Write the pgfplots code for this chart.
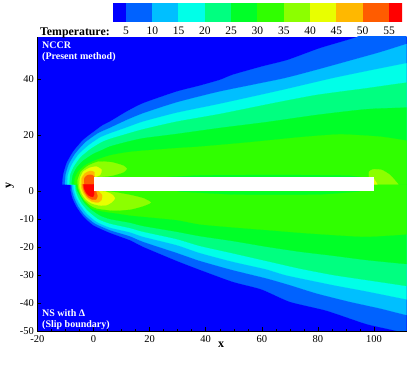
\documentclass[border=0pt]{standalone}
\usepackage{pgfplots}
\pgfplotsset{compat=1.18}
\usepackage{fontspec}
\setmainfont{Liberation Serif}
\definecolor{c0}{HTML}{0000FF}
\definecolor{c5}{HTML}{0062FF}
\definecolor{c10}{HTML}{00BFFF}
\definecolor{c15}{HTML}{00FFE8}
\definecolor{c20}{HTML}{00FF80}
\definecolor{c25}{HTML}{00FF28}
\definecolor{c30}{HTML}{30FF00}
\definecolor{c35}{HTML}{8CFF00}
\definecolor{c40}{HTML}{E8FF00}
\definecolor{c45}{HTML}{FFB800}
\definecolor{c50}{HTML}{FF5C00}
\definecolor{c55}{HTML}{FF0000}
\tikzset{band/.style={fill=#1,draw=#1,line width=.2pt},
         zone/.style={fill=#1,draw=#1,line width=.2pt,smooth,tension=0.35}}
\begin{document}
\begin{tikzpicture}[x=1pt,y=1pt]
\useasboundingbox (0,0) rectangle (415,369);
\begin{axis}[
  at={(37.4pt,37.7pt)},anchor=south west,
  scale only axis,width=369.3pt,height=294.3pt,
  xmin=-20,xmax=111.66,ymin=-50,ymax=55.1,
  axis x line=bottom,axis y line=left,axis line style={-,line width=.7pt},
  axis on top,
  axis background/.style={fill=c0},
  xtick={-20,0,...,100},
  xticklabels={-20,0,20,40,60,80,100},
  ytick={-50,-40,-30,-20,-10,0,20,40},
  yticklabels={-50,-40,-30,-20,-10,0,20,40},
  minor x tick num=3,
  tick align=inside,
  major tick length=4pt,minor tick length=2pt,
  tick style={black,line width=.4pt},
  ticklabel style={font=\fontsize{10.5}{12}\selectfont},
  xticklabel style={yshift=-0.5pt},
]
% level 5
\addplot[zone=c5] coordinates {(-11.12,2.5)(-10.77,5.82)(-9.55,10.0)(-7.2,14.14)(-3.64,18.32)(0.53,21.54)(3.49,23.68)(5.88,24.86)(11.84,28.43)(17.75,31.43)(29.66,35.57)(37.97,37.71)(45.1,39.75)(49.73,41.6)(59.96,44.5)(69.34,46.9)(80.75,51.07)(93.83,55.0)(100,58)(125,58)(125,2.5)} --cycle;
\addplot[zone=c5] coordinates {(-8.13,2.5)(-8.13,0.46)(-7.42,-2.5)(-5.99,-5.5)(-3.64,-8.82)(-0.07,-12.04)(5.88,-14.79)(13.01,-17.4)(17.75,-19.79)(29.66,-24.79)(37.97,-28.0)(49.73,-32.3)(59.96,-35.0)(70.05,-39.43)(83.14,-42.6)(97.4,-47.39)(109.27,-50.14)(125,-55)(125,2.5)} --cycle;
% level 10
\addplot[zone=c10] coordinates {(-10.16,2.5)(-9.91,5.82)(-8.73,9.64)(-6.35,13.57)(-2.78,17.5)(1.71,20.71)(5.88,22.6)(11.84,25.4)(17.75,27.82)(29.66,31.7)(45.1,35.6)(67.56,40.2)(79.57,43.32)(91.44,46.6)(102.14,49.6)(111.66,52.6)(125,57)(125,2.5)} --cycle;
\addplot[zone=c10] coordinates {(-7.77,2.5)(-7.56,0.46)(-6.84,-2.14)(-5.42,-5.25)(-3.03,-8.46)(0.53,-11.43)(5.88,-13.82)(13.01,-16.0)(17.75,-18.0)(29.66,-21.93)(37.97,-24.8)(49.73,-28.11)(61.75,-31.07)(70.05,-33.46)(79.57,-36.43)(91.44,-39.43)(102.14,-41.79)(111.66,-44.18)(125,-47)(125,2.5)} --cycle;
% level 15
\addplot[zone=c15] coordinates {(-9.34,2.5)(-9.09,5.82)(-7.77,9.36)(-5.42,12.96)(-1.85,16.29)(2.32,19.14)(5.88,20.64)(11.84,22.75)(17.75,24.86)(29.66,28.0)(45.1,31.2)(67.56,36.18)(85.38,40.36)(99.64,43.32)(111.66,45.71)(125,48)(125,2.5)} --cycle;
\addplot[zone=c15] coordinates {(-7.2,2.5)(-6.95,0.46)(-6.24,-1.93)(-4.81,-4.64)(-2.42,-7.86)(1.14,-10.86)(5.88,-12.93)(13.01,-14.6)(17.75,-16.21)(29.66,-19.18)(37.97,-22.0)(49.73,-25.14)(61.75,-27.86)(68.88,-30.0)(85.49,-33.46)(97.4,-35.7)(111.66,-38.57)(125,-41)(125,2.5)} --cycle;
% level 20
\addplot[zone=c20] coordinates {(-8.48,2.5)(-8.27,5.82)(-6.95,8.79)(-4.56,12.14)(-1.0,15.11)(2.92,17.5)(5.88,18.68)(11.84,20.46)(17.75,22.14)(29.66,24.86)(45.1,27.6)(63.99,31.43)(79.57,34.39)(97.4,36.79)(111.66,38.79)(125,40)(125,2.5)} --cycle;
\addplot[zone=c20] coordinates {(-6.6,2.5)(-6.35,0.46)(-5.63,-1.68)(-4.21,-4.29)(-1.85,-7.04)(1.71,-9.89)(5.88,-11.5)(13.01,-13.1)(17.75,-14.43)(29.66,-17.04)(37.97,-19.5)(49.73,-22.14)(61.75,-24.89)(73.62,-27.6)(85.49,-29.89)(97.4,-31.68)(111.66,-33.82)(125,-36)(125,2.5)} --cycle;
% level 25
\addplot[zone=c25] coordinates {(-7.77,2.5)(-7.42,5.57)(-5.99,8.43)(-3.64,10.93)(-0.07,13.32)(3.49,14.9)(5.88,16.0)(11.84,17.61)(17.75,18.93)(29.66,20.46)(45.1,22.61)(61.75,24.7)(79.57,27.25)(97.4,29.3)(111.66,29.86)(125,30)(125,2.5)} --cycle;
\addplot[zone=c25] coordinates {(-6.24,2.5)(-5.99,0.71)(-4.81,-1.57)(-3.28,-4.07)(-0.89,-6.43)(2.32,-8.6)(5.88,-9.89)(13.01,-11.2)(17.75,-12.39)(29.66,-14.43)(37.97,-16.0)(49.73,-17.75)(61.75,-19.79)(73.62,-21.57)(85.49,-23.0)(97.4,-24.54)(111.66,-25.96)(125,-27)(125,2.5)} --cycle;
% level 30
\addplot[zone=c30] coordinates {(-6.84,2.5)(-6.6,4.75)(-5.17,7.36)(-2.78,9.39)(0.53,11.0)(5.88,12.8)(11.84,13.9)(17.75,14.5)(29.66,15.4)(37.97,15.93)(55.79,17.5)(73.62,19.29)(87.88,20.3)(102.14,19.5)(111.66,18.07)(125,16)(125,2.5)} --cycle;
\addplot[zone=c30] coordinates {(-5.88,2.5)(-5.53,0.71)(-4.46,-1.57)(-2.85,-4.0)(-0.5,-6.2)(3.49,-7.2)(7.66,-7.8)(13.01,-8.6)(17.75,-9.07)(29.66,-10.25)(37.97,-11.8)(49.73,-12.86)(61.75,-13.82)(73.62,-14.79)(85.49,-15.61)(97.4,-16.2)(111.66,-15.36)(125,-14)(125,2.5)} --cycle;
% thin cooler layers along the plate
\addplot[zone=c25] coordinates {(25,5)(40,5.7)(70,5.8)(90,5.6)(96,5)} --cycle;
\addplot[zone=c25] coordinates {(30,0)(50,-1.1)(80,-1.1)(95,0)} --cycle;
% level 35
\addplot[zone=c35] coordinates {(-5.63,2.5)(-5.63,4.04)(-4.46,7.0)(-1.85,9.14)(1.71,10.57)(6.49,10.36)(10.62,9.14)(11.84,8.04)(10.62,6.79)(6.49,5.57)(1.14,5.0)(0.2,5)(0.2,2.5)} --cycle;
\addplot[zone=c35] coordinates {(-5.53,2.5)(-5.35,1.18)(-4.63,-0.96)(-3.39,-2.93)(-1.25,-4.89)(1.25,-6.14)(7.06,-6.86)(13.01,-6.5)(17.75,-5.25)(20.39,-4.0)(17.75,-2.5)(13.01,-1.32)(7.06,-0.25)(0.53,0.29)(0.5,2.5)} --cycle;
\addplot[zone=c35] coordinates {(98.22,2.5)(98.22,5.21)(98.22,7.0)(99.75,7.86)(102.75,7.61)(105.7,5.82)(108.66,2.5)} --cycle;
% level 40
\addplot[zone=c40] coordinates {(-4.92,2.5)(-4.81,4.64)(-3.64,7.0)(-1.25,8.43)(1.14,8.79)(2.92,7.6)(2.32,5.82)(0.29,4.86)(0.29,2.5)} --cycle;
\addplot[zone=c40] coordinates {(-5.06,2.5)(-4.92,1.18)(-4.1,-0.96)(-2.67,-2.93)(-0.53,-4.36)(2.32,-5.07)(4.81,-4.89)(6.6,-3.82)(7.66,-2.5)(6.6,-1.14)(4.1,-0.07)(0.36,0.29)(0.36,2.5)} --cycle;
\addplot[band=c40] coordinates {(99,2.5)(99,4.4)(100,4.4)(101.2,2.5)} --cycle;
% level 45
\addplot[zone=c45] coordinates {(-4.21,2.5)(-4.21,4.64)(-3.03,6.43)(-1.25,7.25)(0.29,6.79)(0.29,2.5)} --cycle;
\addplot[zone=c45] coordinates {(-4.35,2.5)(-4.28,1.18)(-3.57,-0.61)(-2.32,-2.39)(-0.53,-3.64)(1.6,-4.0)(2.85,-3.11)(3.03,-1.32)(1.6,0.11)(0.18,0.29)(0.18,2.5)} --cycle;
% level 50
\addplot[zone=c50] coordinates {(-3.28,2.5)(-3.28,4.64)(-2.07,5.82)(-0.43,5.82)(0.29,5.21)(0.29,2.5)} --cycle;
\addplot[zone=c50] coordinates {(-3.85,2.5)(-3.74,1.18)(-3.03,-0.61)(-1.96,-2.04)(-0.53,-2.93)(0.89,-2.93)(1.43,-1.68)(0.89,0.11)(0.89,2.5)} --cycle;
% level 55
\addplot[zone=c55] coordinates {(-3.49,2.5)(-3.39,1.18)(-2.67,-0.43)(-1.6,-1.57)(-0.18,-2.04)(0.18,-1.32)(0.18,2.5)} --cycle;
% plate
\addplot[fill=white,draw=none] coordinates {(0.1,0)(100,0)(100,5)(0.1,5)} --cycle;
\end{axis}
\begin{axis}[
  at={(112.7pt,347pt)},anchor=south west,
  scale only axis,width=289.3pt,height=18.5pt,
  xmin=2.48,xmax=57.47,ymin=0,ymax=1,
  axis line style={draw=none},
  xtick={5,10,...,55},ytick=\empty,
  tick style={draw=none},
  xticklabels={5,10,15,20,25,30,35,40,45,50,55},
  ticklabel style={font=\fontsize{11.5}{13}\selectfont},
  xticklabel style={yshift=-1.5pt},
]
\addplot[band=c0] coordinates {(2.48,0)(5,0)(5,1)(2.48,1)} --cycle;
\addplot[band=c5] coordinates {(5,0)(10,0)(10,1)(5,1)} --cycle;
\addplot[band=c10] coordinates {(10,0)(15,0)(15,1)(10,1)} --cycle;
\addplot[band=c15] coordinates {(15,0)(20,0)(20,1)(15,1)} --cycle;
\addplot[band=c20] coordinates {(20,0)(25,0)(25,1)(20,1)} --cycle;
\addplot[band=c25] coordinates {(25,0)(30,0)(30,1)(25,1)} --cycle;
\addplot[band=c30] coordinates {(30,0)(35,0)(35,1)(30,1)} --cycle;
\addplot[band=c35] coordinates {(35,0)(40,0)(40,1)(35,1)} --cycle;
\addplot[band=c40] coordinates {(40,0)(45,0)(45,1)(40,1)} --cycle;
\addplot[band=c45] coordinates {(45,0)(50,0)(50,1)(45,1)} --cycle;
\addplot[band=c50] coordinates {(50,0)(55,0)(55,1)(50,1)} --cycle;
\addplot[band=c55] coordinates {(55,0)(57.47,0)(57.47,1)(55,1)} --cycle;
\end{axis}
\node[anchor=base west,inner sep=0,font=\fontsize{11.8}{13}\selectfont\bfseries] at (40,333.5) {Temperature:};
\node[anchor=base west,inner sep=0,text=white,font=\fontsize{10}{11}\selectfont\bfseries] at (42,320) {NCCR};
\node[anchor=base west,inner sep=0,text=white,font=\fontsize{10}{11}\selectfont\bfseries] at (42,309.5) {(Present method)};
\node[anchor=base west,inner sep=0,text=white,font=\fontsize{10}{11}\selectfont\bfseries] at (42,52) {NS with Δ};
\node[anchor=base west,inner sep=0,text=white,font=\fontsize{10}{11}\selectfont\bfseries] at (42,41.5) {(Slip boundary)};
\node[inner sep=0,font=\fontsize{12}{13}\selectfont\bfseries] at (221,24.5) {x};
\node[inner sep=0,rotate=90,font=\fontsize{12}{13}\selectfont\bfseries] at (10,183) {y};
\end{tikzpicture}
\end{document}
